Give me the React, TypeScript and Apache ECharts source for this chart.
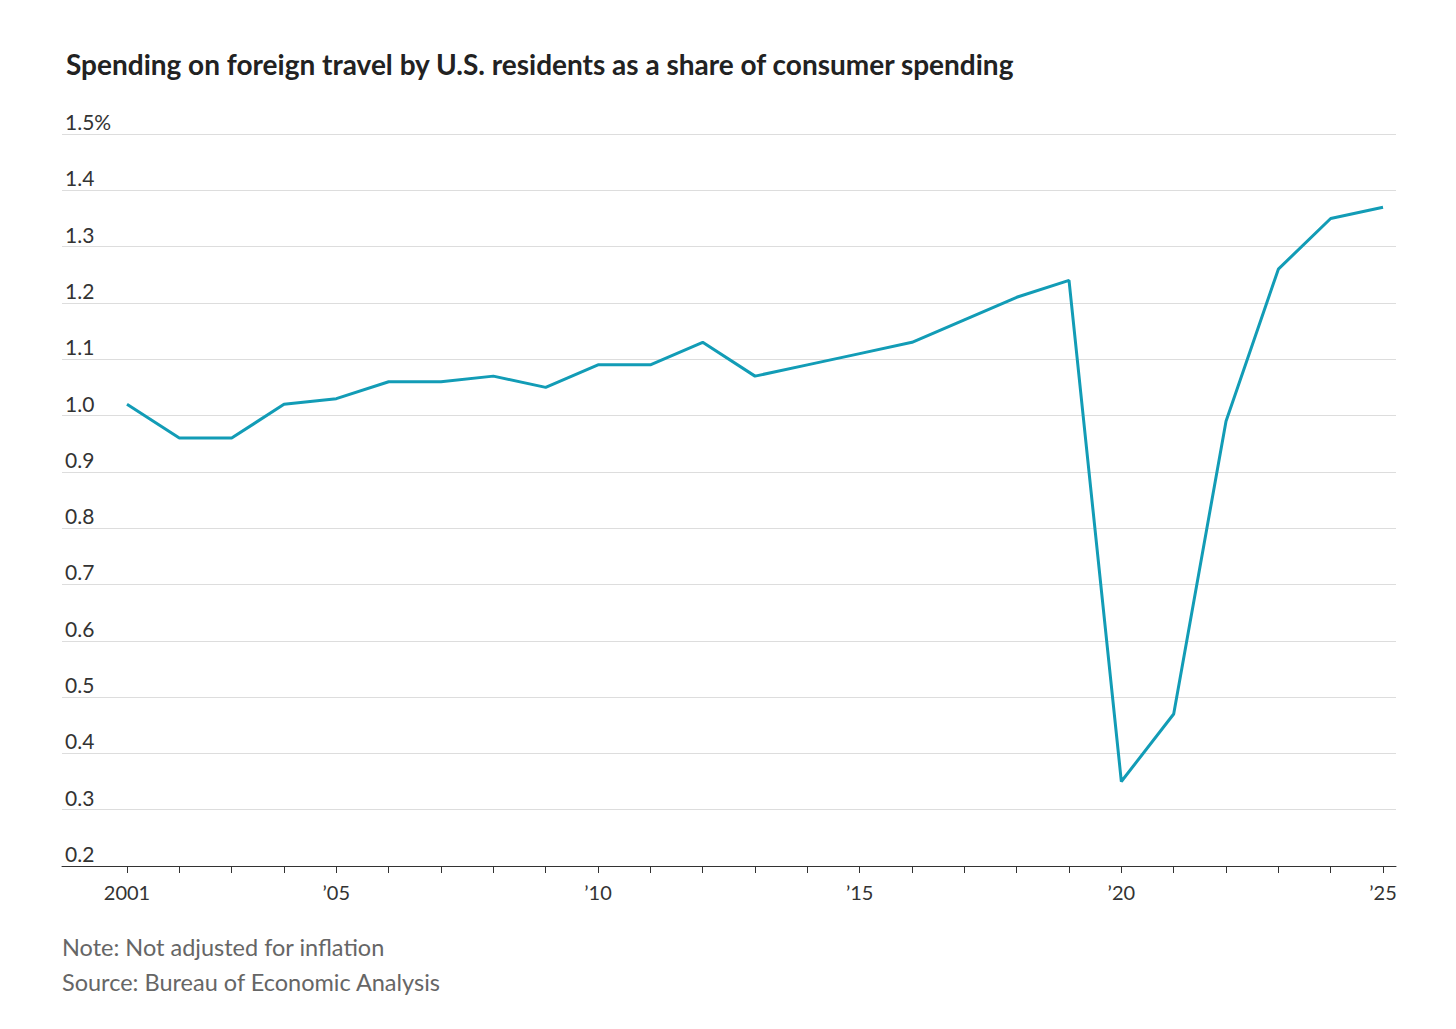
import { useEffect, useRef } from 'react'
import * as echarts from 'echarts'

const years = [2001, 2002, 2003, 2004, 2005, 2006, 2007, 2008, 2009, 2010, 2011, 2012, 2013, 2014, 2015, 2016, 2017, 2018, 2019, 2020, 2021, 2022, 2023, 2024, 2025]
const share = [1.02, 0.96, 0.96, 1.02, 1.03, 1.06, 1.06, 1.07, 1.05, 1.09, 1.09, 1.13, 1.07, 1.09, 1.11, 1.13, 1.17, 1.21, 1.24, 0.35, 0.47, 0.99, 1.26, 1.35, 1.37]
const labelYears = [2001, 2005, 2010, 2015, 2020, 2025]
const labelText: Record<number, string> = { 2001: '2001', 2005: '’05', 2010: '’10', 2015: '’15', 2020: '’20', 2025: '’25' }

const FONT = 'Lato, "Noto Sans", sans-serif'

export default function App() {
  const ref = useRef<HTMLDivElement>(null)

  useEffect(() => {
    if (!ref.current) return
    const chart = echarts.init(ref.current, undefined, { renderer: 'svg' })
    chart.setOption({
      animation: false,
      backgroundColor: '#fff',
      title: {
        text: 'Spending on foreign travel by U.S. residents as a share of consumer spending',
        left: 61, top: 45,
        textStyle: { fontFamily: FONT, fontSize: 28, fontWeight: 'bold', color: '#222' },
      },
      grid: { left: 62, right: 60, top: 134, bottom: 163 },
      xAxis: {
        type: 'value', min: 1999.758, max: 2025.248,
        axisLine: { lineStyle: { color: '#333', width: 1 } },
        axisTick: { customValues: years, length: 7, lineStyle: { color: '#333' } },
        axisLabel: {
          customValues: labelYears, formatter: (v: number) => labelText[Math.round(v)] ?? '',
          fontFamily: FONT, fontSize: 20, color: '#333', margin: 16,
        },
        splitLine: { show: false },
      },
      yAxis: {
        type: 'value', min: 0.2, max: 1.5, interval: 0.1,
        axisLine: { show: false }, axisTick: { show: false },
        axisLabel: {
          inside: true, verticalAlign: 'bottom', margin: 3, padding: [0, 0, 2, 0],
          formatter: (v: number) => (Math.abs(v - 1.5) < 1e-6 ? '1.5%' : v.toFixed(1)),
          fontFamily: FONT, fontSize: 21, color: '#333',
        },
        splitLine: { lineStyle: { color: '#ddd', width: 1 } },
      },
      series: [{
        type: 'line', data: years.map((y, i) => [y, share[i]]), showSymbol: false,
        lineStyle: { color: '#129cb6', width: 3 },
      }],
      graphic: [
        { type: 'text', left: 62, top: 935, style: { text: 'Note: Not adjusted for inflation', fontFamily: FONT, fontSize: 23.5, fill: '#666' } },
        { type: 'text', left: 62, top: 970, style: { text: 'Source: Bureau of Economic Analysis', fontFamily: FONT, fontSize: 23.5, fill: '#666' } },
      ],
    })
    return () => chart.dispose()
  }, [])

  return <div ref={ref} style={{ width: 1456, height: 1029, margin: -8 }} />
}
